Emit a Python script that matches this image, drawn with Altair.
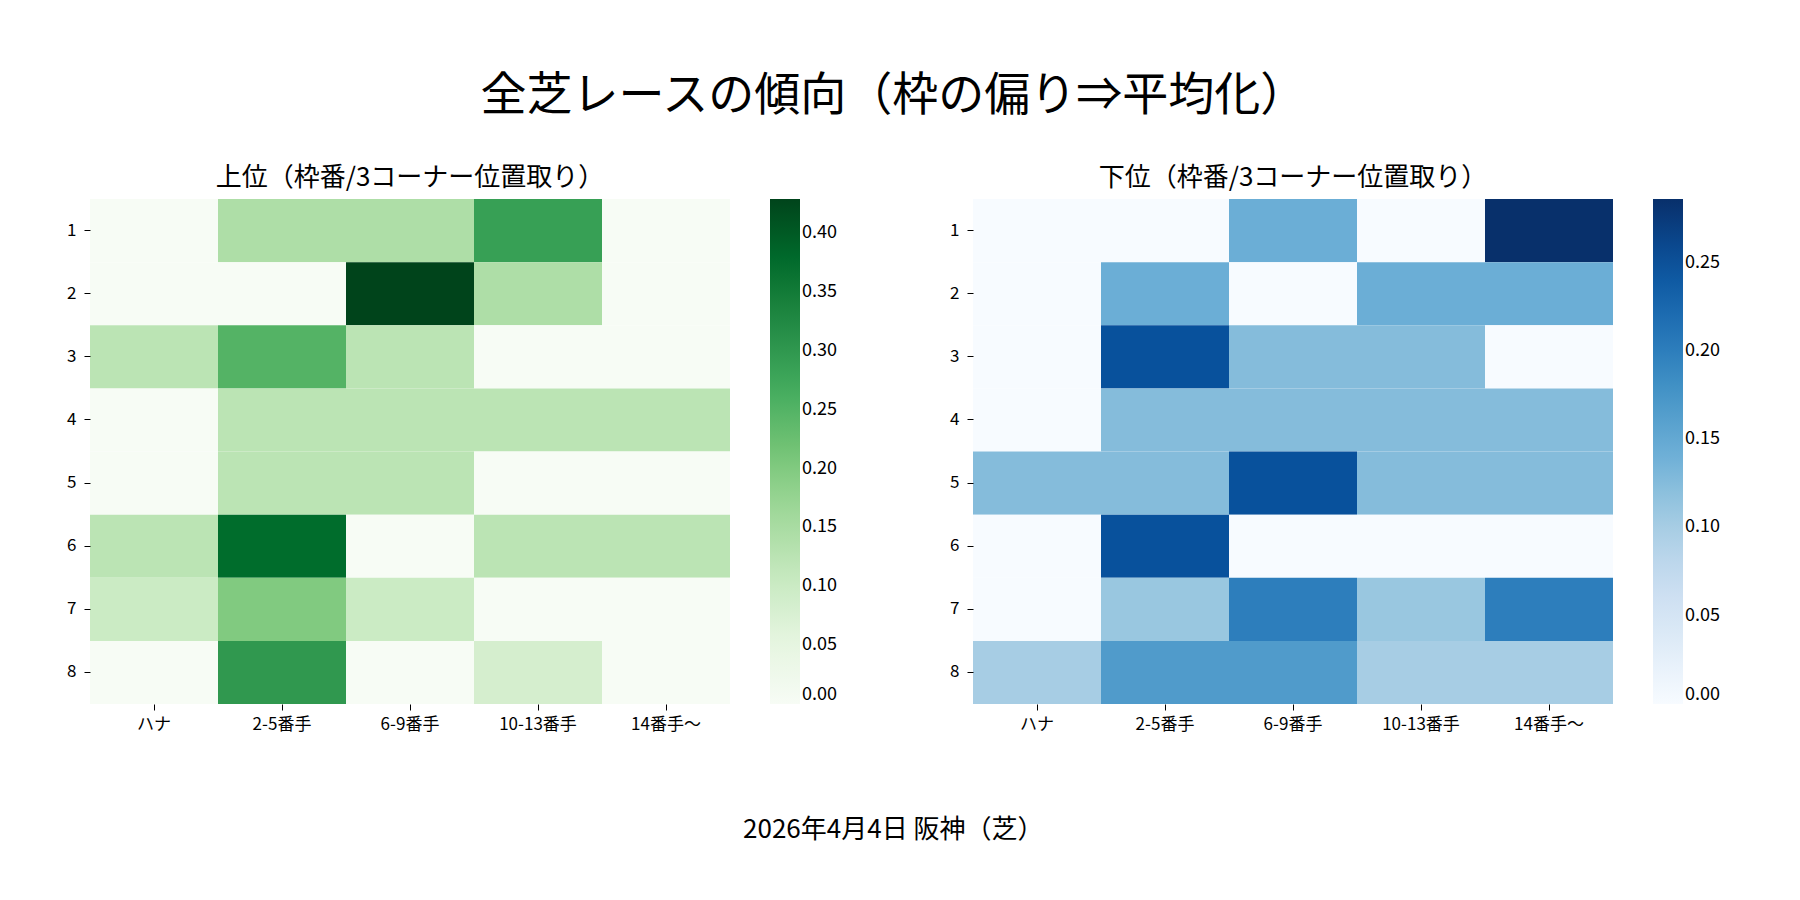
import pandas as pd
import altair as alt

FONT = "Noto Sans CJK JP"

cols = ["ハナ", "2-5番手", "6-9番手", "10-13番手", "14番手～"]
rows = [1, 2, 3, 4, 5, 6, 7, 8]

# 上位 (rows = 枠 1..8)
upper = [
    [0, 0.143, 0.143, 0.286, 0],
    [0, 0, 0.429, 0.143, 0],
    [0.125, 0.25, 0.125, 0, 0],
    [0, 0.125, 0.125, 0.125, 0.125],
    [0, 0.125, 0.125, 0, 0],
    [0.125, 0.375, 0, 0.125, 0.125],
    [0.1, 0.2, 0.1, 0, 0],
    [0, 0.3, 0, 0.083, 0],
]
# 下位
lower = [
    [0, 0, 0.143, 0, 0.286],
    [0, 0.143, 0, 0.143, 0.143],
    [0, 0.25, 0.125, 0.125, 0],
    [0, 0.125, 0.125, 0.125, 0.125],
    [0.125, 0.125, 0.25, 0.125, 0.125],
    [0, 0.25, 0, 0, 0],
    [0, 0.111, 0.2, 0.111, 0.2],
    [0.1, 0.167, 0.167, 0.1, 0.1],
]

greens = ["#f7fcf5", "#e5f5e0", "#c7e9c0", "#a1d99b", "#74c476",
          "#41ab5d", "#238b45", "#006d2c", "#00441b"]
blues = ["#f7fbff", "#deebf7", "#c6dbef", "#9ecae1", "#6baed6",
         "#4292c6", "#2171b5", "#08519c", "#08306b"]


def to_df(mat):
    return pd.DataFrame(
        [{"row": r, "col": c, "v": mat[i][j]}
         for i, r in enumerate(rows) for j, c in enumerate(cols)]
    )


def heat(mat, title, colors):
    vmax = max(max(r) for r in mat)
    return alt.Chart(to_df(mat)).mark_rect().encode(
        x=alt.X("col:N", sort=cols, title=None,
                axis=alt.Axis(labelAngle=0, domain=False, tickSize=6,
                              labelFontSize=17, labelPadding=6)),
        y=alt.Y("row:O", sort=rows, title=None,
                axis=alt.Axis(domain=False, tickSize=6, labelFontSize=17,
                              labelPadding=8)),
        color=alt.Color("v:Q", title=None,
                        scale=alt.Scale(domain=[0, vmax], range=colors),
                        legend=alt.Legend(format=".2f", gradientLength=505,
                                          gradientThickness=30,
                                          labelFontSize=18, tickCount=8,
                                          offset=40, direction="vertical")),
    ).properties(
        width=640, height=505,
        title=alt.TitleParams(title, fontSize=26, fontWeight="normal",
                              font=FONT, offset=8),
    )


left = heat(upper, "上位（枠番/3コーナー位置取り）", greens)
right = heat(lower, "下位（枠番/3コーナー位置取り）", blues)

panels = alt.hconcat(left, right, spacing=112).resolve_scale(color="independent").properties(
    title=alt.TitleParams("2026年4月4日 阪神（芝）", orient="bottom", anchor="middle",
                          fontSize=26, fontWeight="normal", font=FONT, offset=85)
)

chart = alt.vconcat(panels).properties(
    title=alt.TitleParams("全芝レースの傾向（枠の偏り⇒平均化）", fontSize=46,
                          fontWeight="normal", font=FONT, anchor="middle",
                          offset=45),
    padding={"left": 58, "top": 65, "right": 20, "bottom": 10},
).configure_view(stroke=None).configure_axis(
    labelFont=FONT, tickColor="#000", labelColor="#000"
).configure_legend(labelFont=FONT, labelColor="#000")

chart.save("out.html", embed_options={"renderer": "svg", "actions": False})
